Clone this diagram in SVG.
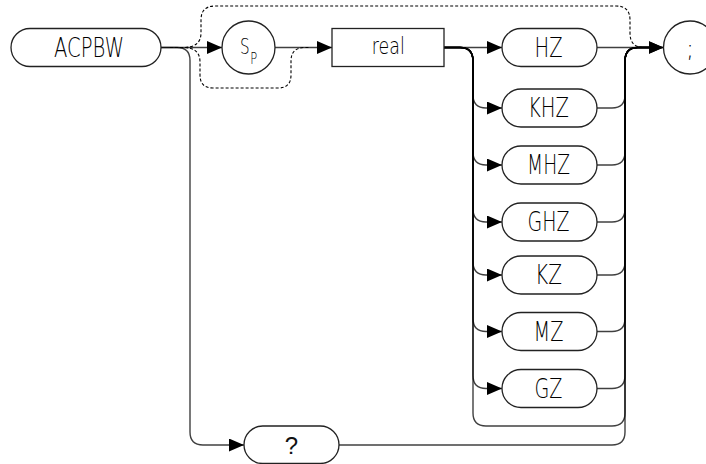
<svg xmlns="http://www.w3.org/2000/svg" width="706" height="464" viewBox="0 0 706 464">
<style>
.node{fill:#fff;stroke:#222;stroke-width:1.3}
.lbl{font-family:"DejaVu Sans","Liberation Sans",sans-serif;font-weight:200;font-size:27px;fill:#000;text-anchor:middle}
.w{fill:none;stroke:#000;stroke-opacity:0.75;stroke-width:1.4}
.d{fill:none;stroke:#000;stroke-width:1.1;stroke-dasharray:3,2}
</style>
<defs>
<marker id="ah" markerUnits="userSpaceOnUse" markerWidth="15" markerHeight="13" refX="15" refY="6.5" orient="auto">
<path d="M0,0 L15,6.5 L0,13 z" fill="#000"/>
</marker>
</defs>
<rect width="706" height="464" fill="#fff"/>
<g id="connectors">
<path class="w" d="M161,47.5 H222" marker-end="url(#ah)"/>
<path class="w" d="M161,47.5 H177 Q190,47.5 190,60.5 V432 Q190,445 203,445 H244" marker-end="url(#ah)"/>
<path class="d" d="M170,47.5 H183 Q200,47.5 200,62 V75 Q200,88 213,88 H278 Q291,88 291,75 V61 Q291,47.5 305,47.5 H310"/>
<path class="d" d="M170,47.5 H183 Q201,47.5 201,33 V20 Q201,6 215,6 H616 Q630,6 630,20 V33 Q630,47.5 644,47.5 H648"/>
<path class="w" d="M275,47.5 H332" marker-end="url(#ah)"/>
<path class="w" d="M444,47.5 H502" marker-end="url(#ah)"/>
<path class="w" d="M597,47.5 H663.5" marker-end="url(#ah)"/>
<path class="w" d="M444,47.5 H460 Q473,47.5 473,61 V95 Q473,108 486,108 H502" marker-end="url(#ah)"/>
<path class="w" d="M444,47.5 H460 Q473,47.5 473,61 V152 Q473,165 486,165 H502" marker-end="url(#ah)"/>
<path class="w" d="M444,47.5 H460 Q473,47.5 473,61 V209 Q473,222 486,222 H502" marker-end="url(#ah)"/>
<path class="w" d="M444,47.5 H460 Q473,47.5 473,61 V262 Q473,275 486,275 H502" marker-end="url(#ah)"/>
<path class="w" d="M444,47.5 H460 Q473,47.5 473,61 V318.5 Q473,331.5 486,331.5 H502" marker-end="url(#ah)"/>
<path class="w" d="M444,47.5 H460 Q473,47.5 473,61 V375.5 Q473,388.5 486,388.5 H502" marker-end="url(#ah)"/>
<path class="w" d="M444,47.5 H460 Q473,47.5 473,61 V413 Q473,426 486,426 H612 Q625,426 625,413 V61 Q625,47.5 638,47.5 H663.5" marker-end="url(#ah)"/>
<path class="w" d="M597,108 H612 Q625,108 625,95 V61 Q625,47.5 638,47.5 H650"/>
<path class="w" d="M597,165 H612 Q625,165 625,152 V61 Q625,47.5 638,47.5 H650"/>
<path class="w" d="M597,222 H612 Q625,222 625,209 V61 Q625,47.5 638,47.5 H650"/>
<path class="w" d="M597,275 H612 Q625,275 625,262 V61 Q625,47.5 638,47.5 H650"/>
<path class="w" d="M597,331.5 H612 Q625,331.5 625,318.5 V61 Q625,47.5 638,47.5 H650"/>
<path class="w" d="M597,388.5 H612 Q625,388.5 625,375.5 V61 Q625,47.5 638,47.5 H650"/>
<path class="w" d="M339,445 H612 Q625,445 625,432 V61 Q625,47.5 638,47.5 H650"/>
</g>
<g id="n-acpbw"><rect class="node" x="11" y="28.5" width="150" height="38" rx="19"/><text class="lbl" x="89" y="56.5" textLength="70" lengthAdjust="spacingAndGlyphs">ACPBW</text></g>
<g id="n-sp"><circle class="node" cx="248.5" cy="47.5" r="26.5"/><text class="lbl" transform="translate(240,53.5) scale(0.72,1)" x="0" y="0" style="font-size:21px;text-anchor:start">S<tspan dx="1" dy="10" style="font-size:16px">P</tspan></text></g>
<g id="n-real"><rect class="node" x="332" y="28.5" width="112" height="38"/><text class="lbl" x="388.3" y="54" style="font-size:23px" textLength="33" lengthAdjust="spacingAndGlyphs">real</text></g>
<g id="n-hz"><rect class="node" x="502" y="28.5" width="95" height="38" rx="19"/><text class="lbl" x="548.5" y="56.5" textLength="28" lengthAdjust="spacingAndGlyphs">HZ</text></g>
<g id="n-khz"><rect class="node" x="502" y="89" width="95" height="38" rx="19"/><text class="lbl" x="548.5" y="117" textLength="41" lengthAdjust="spacingAndGlyphs">KHZ</text></g>
<g id="n-mhz"><rect class="node" x="502" y="146" width="95" height="38" rx="19"/><text class="lbl" x="548.5" y="174" textLength="43" lengthAdjust="spacingAndGlyphs">MHZ</text></g>
<g id="n-ghz"><rect class="node" x="502" y="203" width="95" height="38" rx="19"/><text class="lbl" x="548.5" y="231" textLength="42" lengthAdjust="spacingAndGlyphs">GHZ</text></g>
<g id="n-kz"><rect class="node" x="502" y="256" width="95" height="38" rx="19"/><text class="lbl" x="548.5" y="284" textLength="27" lengthAdjust="spacingAndGlyphs">KZ</text></g>
<g id="n-mz"><rect class="node" x="502" y="312.5" width="95" height="38" rx="19"/><text class="lbl" x="548.5" y="340.5" textLength="30" lengthAdjust="spacingAndGlyphs">MZ</text></g>
<g id="n-gz"><rect class="node" x="502" y="369.5" width="95" height="38" rx="19"/><text class="lbl" x="548.5" y="397.5" textLength="28" lengthAdjust="spacingAndGlyphs">GZ</text></g>
<g id="n-semi"><circle class="node" cx="690" cy="47.5" r="26.5"/><text class="lbl" x="690" y="56.5" style="font-size:24px">;</text></g>
<g id="n-query"><rect class="node" x="244" y="426" width="95" height="37.5" rx="18.75"/><text x="291.5" y="454" font-family="Liberation Sans,Arial,sans-serif" font-size="24" fill="#111" text-anchor="middle">?</text></g>
</svg>
